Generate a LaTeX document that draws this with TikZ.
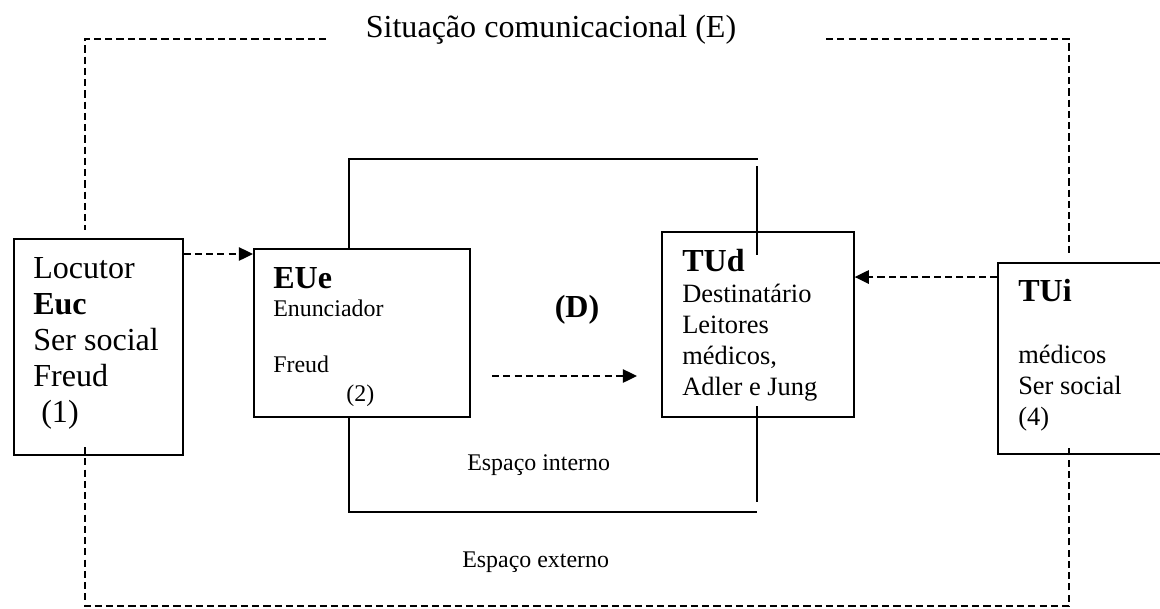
\documentclass[tikz,border=0pt]{standalone}
\usepackage{fontspec}
\setmainfont{Liberation Serif}
\usetikzlibrary{arrows.meta}

\begin{document}
\begin{tikzpicture}[x=0.025cm, y=-0.025cm, >={Triangle[length=10pt,width=9.5pt]}]
	
	% 1. Limites da figura
	\def\xmax{1160}
	\def\ymax{608}
	\useasboundingbox (0,0) rectangle (\xmax,\ymax);
	\clip (0,0) rectangle (\xmax,\ymax);
	
	\tikzset{
		caixa/.style={draw, line width=1.2pt, inner sep=0pt, anchor=north west},
		linha/.style={line width=1.2pt},
		tracejado/.style={line width=1pt, dash pattern=on 5pt off 3pt},
		texto/.style={anchor=base west, align=left, inner sep=0pt},
		grande/.style={font=\fontsize{22.8}{25.6}\selectfont},
		medio/.style={font=\fontsize{18.8}{22}\selectfont},
		pequeno/.style={font=\fontsize{17}{20}\selectfont}
	}
	
	% 2. Título
	\node[grande, anchor=base] (titulo) at (551,37) {Situação comunicacional (E)};
	
	% 3. Caixas dos sujeitos
	\node[caixa, minimum width=169*0.025cm, minimum height=216*0.025cm] (Euc) at (13,238) {};
	\node[caixa, minimum width=216*0.025cm, minimum height=168*0.025cm] (EUe) at (253,248) {};
	\node[caixa, minimum width=192*0.025cm, minimum height=185*0.025cm] (TUd) at (661,231) {};
	\node[caixa, minimum width=200*0.025cm, minimum height=191*0.025cm] (TUi) at (997,262) {};
	
	% 4. Textos das caixas (âncora na última linha)
	\node[texto, grande] (tEuc) at (33,422)
		{Locutor\\\textbf{Euc}\\Ser social\\Freud\\\hspace*{0.25em}(1)};
	\node[texto, pequeno] (tEUe) at (273,401)
		{{\fontsize{22.8}{25.6}\selectfont\bfseries EUe}\\Enunciador\\[20pt]Freud\\\hspace*{52pt}(2)};
	\node[texto, medio] (tTUd) at (682,395)
		{{\fontsize{22.8}{25.6}\selectfont\bfseries TUd}\\Destinatário\\Leitores\\médicos,\\Adler e Jung};
	\node[texto, medio] (tTUi) at (1018,425)
		{{\fontsize{22.8}{25.6}\selectfont\bfseries TUi}\\[22pt]médicos\\Ser social\\(4)};
	
	% 5. Espaço interno (moldura contínua)
	\draw[linha] (EUe.north -| 349,0) -- (349,159) -- (758,159);
	\draw[linha] (757,166) -- (757,255);
	\draw[linha] (EUe.south -| 349,0) -- (349,512) -- (757,512);
	\draw[linha] (757,406) -- (757,502);
	
	% 6. Espaço externo (moldura tracejada)
	\draw[tracejado] (326,39) -- (85,39) -- (85,230);
	\draw[tracejado] (826,39) -- (1069,39) -- (1069,256);
	\draw[tracejado] (85,447) -- (85,606) -- (1069,606) -- (1069,447);
	
	% 7. Setas
	\coordinate (dA) at (492,376);
	\coordinate (dB) at (637,376);
	\draw[tracejado, ->] (Euc.east |- 0,254) -- (EUe.west |- 0,254);
	\draw[tracejado, ->] (TUi.west |- 0,277) -- (TUd.east |- 0,277);
	\draw[tracejado, ->] (dA) -- (dB);
	
	% 8. Rótulos
	\node[font=\fontsize{22.8}{25.6}\selectfont\bfseries, anchor=base] (D) at (577,317) {(D)};
	\node[texto, pequeno] (interno) at (467,470) {Espaço interno};
	\node[texto, pequeno] (externo) at (462,567) {Espaço externo};
	
\end{tikzpicture}
\end{document}
